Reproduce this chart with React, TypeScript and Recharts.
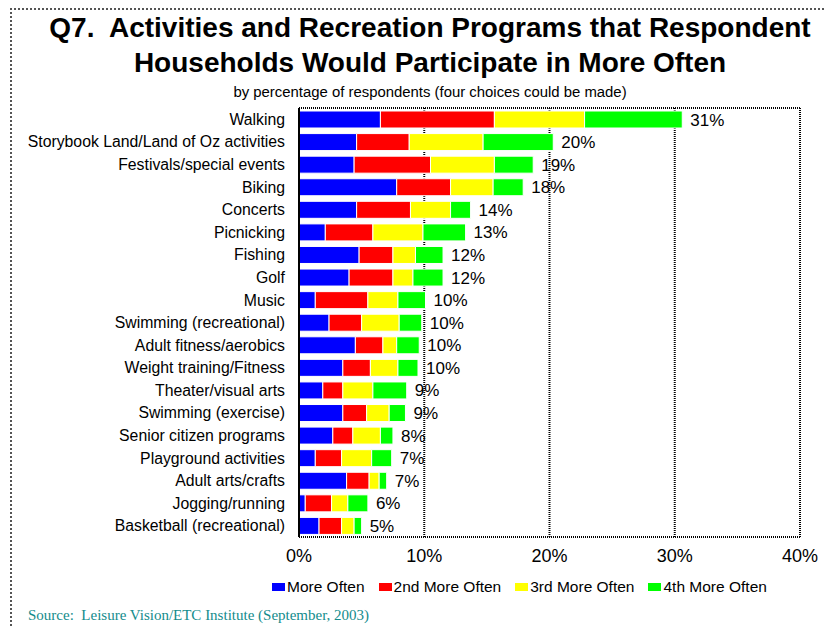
import { BarChart, Bar, XAxis, YAxis, CartesianGrid, LabelList } from 'recharts'

// activities, top to bottom
const activities = [
  'Walking',
  'Storybook Land/Land of Oz activities',
  'Festivals/special events',
  'Biking',
  'Concerts',
  'Picnicking',
  'Fishing',
  'Golf',
  'Music',
  'Swimming (recreational)',
  'Adult fitness/aerobics',
  'Weight training/Fitness',
  'Theater/visual arts',
  'Swimming (exercise)',
  'Senior citizen programs',
  'Playground activities',
  'Adult arts/crafts',
  'Jogging/running',
  'Basketball (recreational)',
]

const moreOften = [6.5, 4.6, 4.4, 7.8, 4.6, 2.1, 4.8, 4.0, 1.3, 2.4, 4.5, 3.5, 1.9, 3.5, 2.7, 1.3, 3.8, 0.5, 1.6]
const secondOften = [9.1, 4.2, 6.1, 4.3, 4.3, 3.8, 2.7, 3.5, 4.2, 2.6, 2.2, 2.2, 1.6, 1.9, 1.6, 2.1, 1.8, 2.1, 1.8]
const thirdOften = [7.2, 5.9, 5.1, 3.4, 3.2, 4.0, 1.8, 1.6, 2.4, 3.0, 1.1, 2.2, 2.4, 1.8, 2.2, 2.4, 0.8, 1.3, 1.0]
const fourthOften = [7.8, 5.6, 3.1, 2.4, 1.6, 3.4, 2.2, 2.4, 2.2, 1.8, 1.8, 1.6, 2.7, 1.3, 1.0, 1.6, 0.6, 1.6, 0.6]
const totals = [31, 20, 19, 18, 14, 13, 12, 12, 10, 10, 10, 10, 9, 9, 8, 7, 7, 6, 5]

const xTicks = [0, 10, 20, 30, 40]

const series = [
  { key: 'm1', label: 'More Often', color: '#0000ff' },
  { key: 'm2', label: '2nd More Often', color: '#ff0000' },
  { key: 'm3', label: '3rd More Often', color: '#ffff00' },
  { key: 'm4', label: '4th More Often', color: '#00ff00' },
]

const data = activities.map((name, i) => ({
  name,
  m1: moreOften[i],
  m2: secondOften[i],
  m3: thirdOften[i],
  m4: fourthOften[i],
  total: totals[i],
}))

const font = '"Liberation Sans", Arial, sans-serif'

export default function App() {
  return (
    <div
      style={{
        position: 'absolute',
        left: 0,
        top: 0,
        width: 825,
        height: 626,
        overflow: 'hidden',
        background: '#fff',
        fontFamily: font,
        color: '#000',
      }}
    >
      {/* dotted page frame */}
      <div
        style={{
          position: 'absolute',
          left: 10,
          top: 8,
          width: 900,
          height: 700,
          borderTop: '2px dotted #555',
          borderLeft: '2px dotted #555',
        }}
      />

      {/* title */}
      <div
        style={{
          position: 'absolute',
          left: 0,
          top: 10,
          width: 860,
          textAlign: 'center',
          fontSize: 28,
          fontWeight: 'bold',
          lineHeight: '35px',
          whiteSpace: 'pre',
        }}
      >
        {'Q7.  Activities and Recreation Programs that Respondent\nHouseholds Would Participate in More Often'}
      </div>
      <div
        style={{
          position: 'absolute',
          left: 0,
          top: 84,
          width: 860,
          textAlign: 'center',
          fontSize: 14.9,
          lineHeight: '17px',
        }}
      >
        by percentage of respondents (four choices could be made)
      </div>

      <div style={{ position: 'absolute', left: 0, top: 0 }}>
        <BarChart
          width={825}
          height={626}
          data={data}
          layout="vertical"
          margin={{ top: 108, right: 25, bottom: 59, left: 0 }}
          barSize={17}
        >
          <CartesianGrid
            stroke="#000"
            strokeWidth={2}
            strokeDasharray="1 1"
            horizontalCoordinatesGenerator={({ offset }: any) => [offset.top, offset.top + offset.height]}
          />
          <XAxis
            type="number"
            domain={[0, 40]}
            ticks={xTicks}
            tickFormatter={(v) => `${v}%`}
            axisLine={{ stroke: '#000', strokeWidth: 2, strokeDasharray: '1 1' }}
            tickLine={false}
            tickSize={6}
            tickMargin={6}
            height={30}
            tick={{ fontSize: 18, fill: '#000', fontFamily: font }}
          />
          <YAxis
            type="category"
            dataKey="name"
            width={299}
            axisLine={{ stroke: '#000', strokeWidth: 2 }}
            tickLine={false}
            tickSize={0}
            tickMargin={14}
            interval={0}
            tick={{ fontSize: 15.8, fill: '#000', fontFamily: font }}
          />
          {series.map((s, idx) => (
            <Bar
              key={s.key}
              dataKey={s.key}
              stackId="a"
              fill={s.color}
              stroke="#fff"
              strokeWidth={1}
              isAnimationActive={false}
            >
              {idx === series.length - 1 && (
                <LabelList
                  dataKey="total"
                  position="right"
                  offset={8}
                  formatter={(v: any) => `${v}%`}
                  style={{ fontSize: 17, fill: '#000', fontFamily: font }}
                />
              )}
            </Bar>
          ))}
        </BarChart>
      </div>

      {/* legend */}
      <div
        style={{
          position: 'absolute',
          left: 272,
          top: 578,
          display: 'flex',
          alignItems: 'center',
          fontSize: 15.5,
          lineHeight: '18px',
        }}
      >
        {series.map((s) => (
          <div key={s.key} style={{ display: 'flex', alignItems: 'center', marginRight: 14 }}>
            <span style={{ display: 'inline-block', width: 13, height: 8, background: s.color, marginRight: 2 }} />
            <span>{s.label}</span>
          </div>
        ))}
      </div>

      {/* source line */}
      <div
        style={{
          position: 'absolute',
          left: 28,
          top: 606,
          fontFamily: '"Liberation Serif", "Times New Roman", serif',
          fontSize: 15,
          color: '#138c8c',
          whiteSpace: 'pre',
          lineHeight: '18px',
        }}
      >
        {'Source:  Leisure Vision/ETC Institute (September, 2003)'}
      </div>
    </div>
  )
}
